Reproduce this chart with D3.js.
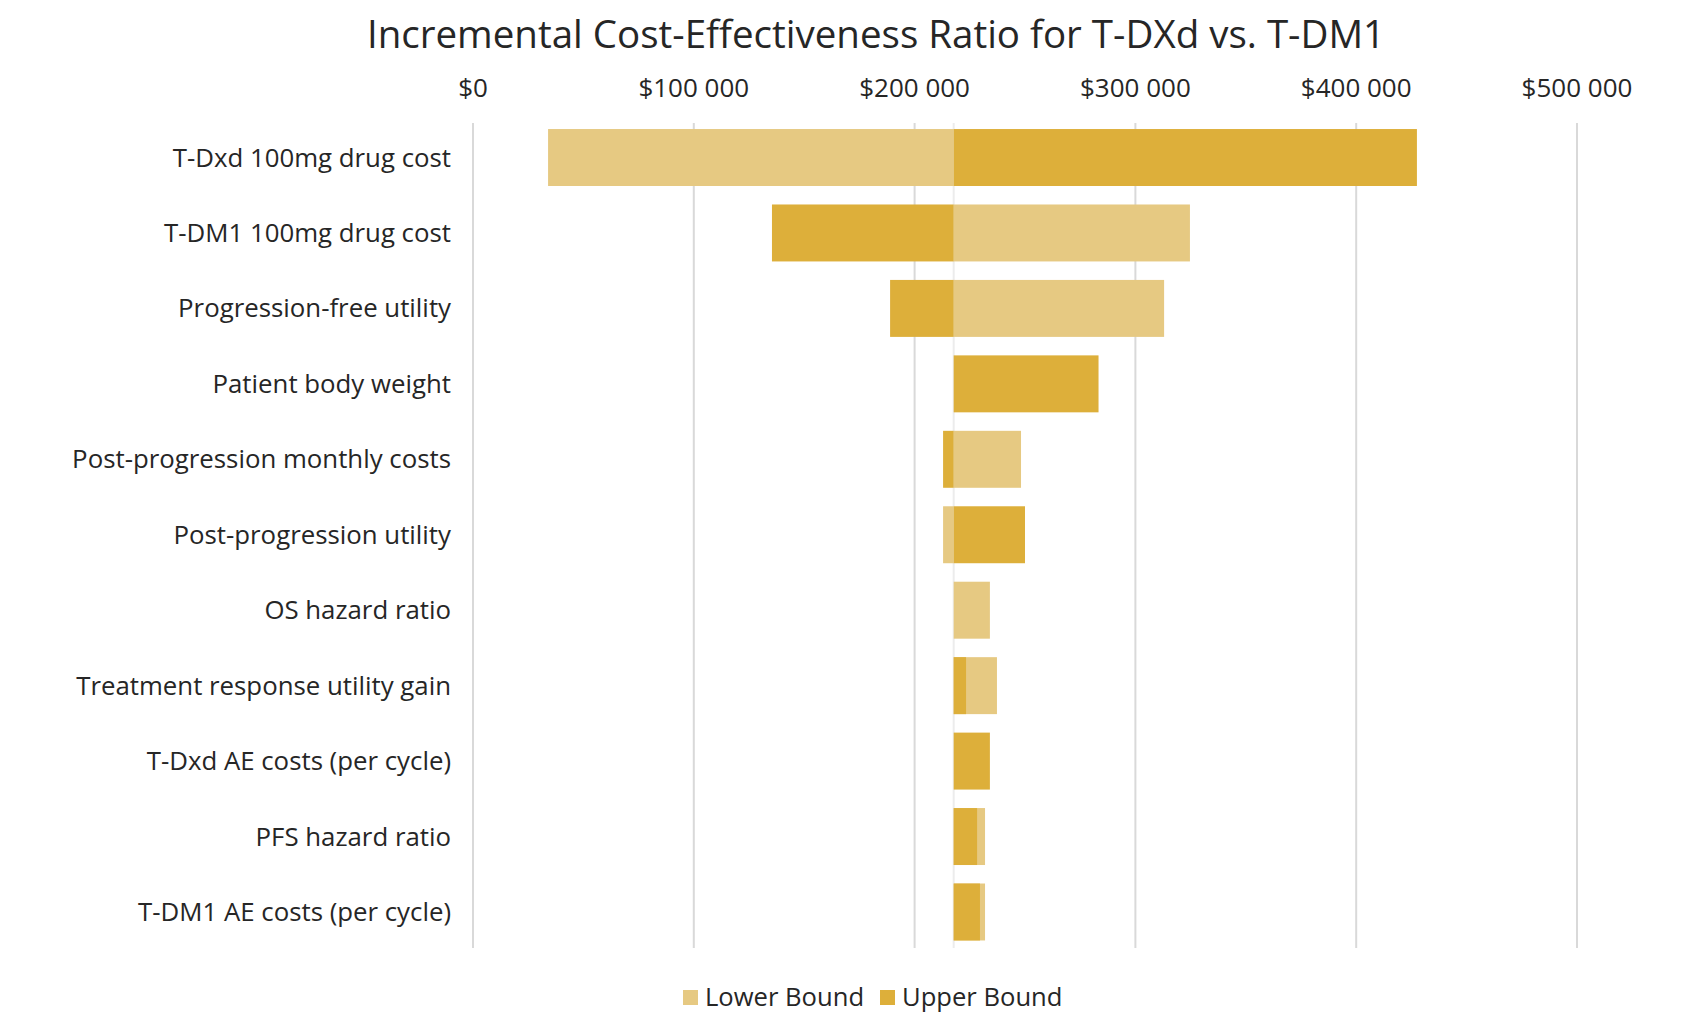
<!DOCTYPE html>
<html>
<head>
<meta charset="utf-8">
<script src="https://cdn.jsdelivr.net/npm/d3@7"></script>
<style>
html,body{margin:0;padding:0;background:#fff;}
svg{display:block;font-family:"Open Sans",sans-serif;}
</style>
</head>
<body>
<svg id="chart" width="1687" height="1027"></svg>
<script>
const categories = [
  "T-Dxd 100mg drug cost",
  "T-DM1 100mg drug cost",
  "Progression-free utility",
  "Patient body weight",
  "Post-progression monthly costs",
  "Post-progression utility",
  "OS hazard ratio",
  "Treatment response utility gain",
  "T-Dxd AE costs (per cycle)",
  "PFS hazard ratio",
  "T-DM1 AE costs (per cycle)"
];
const baseCase = 217700;
const lowerBound = [34000, 324700, 313000, 217700, 248200, 212900, 234100, 237300, 217700, 231900, 231900];
const upperBound = [427500, 135400, 188900, 283300, 212900, 250000, 217700, 223300, 234100, 228300, 229600];
const tickValues = [0, 100000, 200000, 300000, 400000, 500000];
const seriesNames = ["Lower Bound", "Upper Bound"];
const colors = ["#E6C982", "#DDAF3A"];

const svg = d3.select("#chart");
const x = d3.scaleLinear().domain([0, 500000]).range([473, 1577]);
const y = d3.scaleBand().domain(categories).range([123, 946.5]).paddingInner(0.245).paddingOuter(0.08);

const fmt = v => "$" + d3.format(",")(v).replace(/,/g, " ");

// gridlines
svg.append("g").selectAll("line").data(tickValues).join("line")
  .attr("x1", d => x(d)).attr("x2", d => x(d))
  .attr("y1", 123).attr("y2", 948)
  .attr("stroke", "#d9d9d9").attr("stroke-width", 2);

// baseline
svg.append("line")
  .attr("x1", x(baseCase)).attr("x2", x(baseCase))
  .attr("y1", 123).attr("y2", 948)
  .attr("stroke", "#ececec").attr("stroke-width", 2);

// axis labels (top)
svg.append("g").selectAll("text").data(tickValues).join("text")
  .attr("x", d => x(d)).attr("y", 97)
  .attr("text-anchor", "middle")
  .attr("font-size", 26).attr("fill", "#262626")
  .text(fmt);

// bars
const series = [lowerBound, upperBound];
series.forEach((vals, si) => {
  svg.append("g").selectAll("rect").data(categories).join("rect")
    .attr("x", (d, i) => Math.min(x(vals[i]), x(baseCase)))
    .attr("width", (d, i) => Math.abs(x(vals[i]) - x(baseCase)))
    .attr("y", d => y(d))
    .attr("height", y.bandwidth())
    .attr("fill", colors[si]);
});

// category labels
svg.append("g").selectAll("text").data(categories).join("text")
  .attr("x", 451).attr("y", d => y(d) + y.bandwidth() / 2 + 9)
  .attr("text-anchor", "end")
  .attr("font-size", 25.8).attr("fill", "#262626")
  .text(d => d);

// title
svg.append("text")
  .attr("x", 876).attr("y", 48)
  .attr("text-anchor", "middle")
  .attr("font-size", 38.5).attr("fill", "#262626")
  .text("Incremental Cost-Effectiveness Ratio for T-DXd vs. T-DM1");

// legend
const leg = svg.append("g");
const legX = [683, 880];
seriesNames.forEach((n, i) => {
  leg.append("rect").attr("x", legX[i]).attr("y", 990).attr("width", 15).attr("height", 15).attr("fill", colors[i]);
  leg.append("text").attr("x", legX[i] + 22).attr("y", 1005.5)
    .attr("font-size", 25.6).attr("fill", "#262626").text(n);
});
</script>
</body>
</html>
